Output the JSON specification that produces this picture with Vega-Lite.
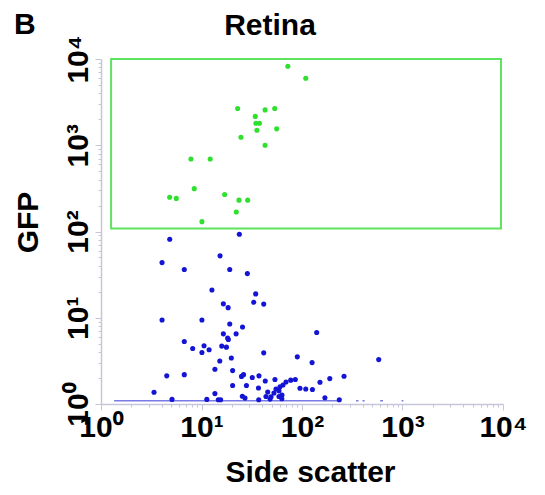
{
  "$schema": "https://vega.github.io/schema/vega-lite/v6.json",
  "autosize": "none",
  "width": 402,
  "height": 345,
  "padding": {"left": 101, "top": 59, "right": 42, "bottom": 91},
  "background": "white",
  "config": {"view": {"stroke": null}, "font": "Liberation Sans"},
  "title": {"text": "Retina", "font": "Liberation Sans", "fontSize": 30, "fontWeight": "bold", "color": "black", "anchor": "middle", "frame": "group", "dx": -32, "baseline": "alphabetic", "offset": 0, "dy": 55},
  "datasets": {
    "pts": [
      {"ssc": 72.3, "gfp": 8230, "gate": "GFP+"},
      {"ssc": 109, "gfp": 5970, "gate": "GFP+"},
      {"ssc": 22.9, "gfp": 2670, "gate": "GFP+"},
      {"ssc": 42.9, "gfp": 2570, "gate": "GFP+"},
      {"ssc": 53.5, "gfp": 2670, "gate": "GFP+"},
      {"ssc": 34.3, "gfp": 2160, "gate": "GFP+"},
      {"ssc": 34.8, "gfp": 1800, "gate": "GFP+"},
      {"ssc": 37.7, "gfp": 1800, "gate": "GFP+"},
      {"ssc": 35.6, "gfp": 1490, "gate": "GFP+"},
      {"ssc": 56.0, "gfp": 1550, "gate": "GFP+"},
      {"ssc": 24.7, "gfp": 1240, "gate": "GFP+"},
      {"ssc": 42.9, "gfp": 1000, "gate": "GFP+"},
      {"ssc": 7.85, "gfp": 693, "gate": "GFP+"},
      {"ssc": 12.2, "gfp": 693, "gate": "GFP+"},
      {"ssc": 8.47, "gfp": 314, "gate": "GFP+"},
      {"ssc": 4.82, "gfp": 250, "gate": "GFP+"},
      {"ssc": 5.61, "gfp": 242, "gate": "GFP+"},
      {"ssc": 17.0, "gfp": 269, "gate": "GFP+"},
      {"ssc": 23.6, "gfp": 231, "gate": "GFP+"},
      {"ssc": 28.8, "gfp": 231, "gate": "GFP+"},
      {"ssc": 22.2, "gfp": 168, "gate": "GFP+"},
      {"ssc": 10.1, "gfp": 130, "gate": "GFP+"},
      {"ssc": 23.8, "gfp": 93.0, "gate": "GFP-"},
      {"ssc": 4.83, "gfp": 81.4, "gate": "GFP-"},
      {"ssc": 4.05, "gfp": 43.6, "gate": "GFP-"},
      {"ssc": 15.3, "gfp": 52.2, "gate": "GFP-"},
      {"ssc": 6.74, "gfp": 36.2, "gate": "GFP-"},
      {"ssc": 19.1, "gfp": 36.2, "gate": "GFP-"},
      {"ssc": 28.6, "gfp": 32.5, "gate": "GFP-"},
      {"ssc": 41.6, "gfp": 14.4, "gate": "GFP-"},
      {"ssc": 12.7, "gfp": 21.0, "gate": "GFP-"},
      {"ssc": 34.6, "gfp": 18.9, "gate": "GFP-"},
      {"ssc": 16.5, "gfp": 14.5, "gate": "GFP-"},
      {"ssc": 33.1, "gfp": 15.1, "gate": "GFP-"},
      {"ssc": 18.4, "gfp": 13.1, "gate": "GFP-"},
      {"ssc": 4.05, "gfp": 9.4, "gate": "GFP-"},
      {"ssc": 10.1, "gfp": 9.4, "gate": "GFP-"},
      {"ssc": 19.1, "gfp": 8.45, "gate": "GFP-"},
      {"ssc": 25.6, "gfp": 7.82, "gate": "GFP-"},
      {"ssc": 140, "gfp": 6.75, "gate": "GFP-"},
      {"ssc": 16.5, "gfp": 6.51, "gate": "GFP-"},
      {"ssc": 22.1, "gfp": 6.51, "gate": "GFP-"},
      {"ssc": 18.2, "gfp": 5.81, "gate": "GFP-"},
      {"ssc": 18.5, "gfp": 5.60, "gate": "GFP-"},
      {"ssc": 6.74, "gfp": 5.30, "gate": "GFP-"},
      {"ssc": 8.17, "gfp": 4.40, "gate": "GFP-"},
      {"ssc": 10.6, "gfp": 4.73, "gate": "GFP-"},
      {"ssc": 11.9, "gfp": 4.25, "gate": "GFP-"},
      {"ssc": 10.1, "gfp": 3.95, "gate": "GFP-"},
      {"ssc": 15.9, "gfp": 4.69, "gate": "GFP-"},
      {"ssc": 17.7, "gfp": 4.56, "gate": "GFP-"},
      {"ssc": 41.6, "gfp": 3.92, "gate": "GFP-"},
      {"ssc": 89.8, "gfp": 3.52, "gate": "GFP-"},
      {"ssc": 126, "gfp": 3.02, "gate": "GFP-"},
      {"ssc": 580, "gfp": 3.27, "gate": "GFP-"},
      {"ssc": 19.8, "gfp": 3.41, "gate": "GFP-"},
      {"ssc": 15.2, "gfp": 3.15, "gate": "GFP-"},
      {"ssc": 13.6, "gfp": 2.53, "gate": "GFP-"},
      {"ssc": 20.4, "gfp": 2.44, "gate": "GFP-"},
      {"ssc": 4.51, "gfp": 2.12, "gate": "GFP-"},
      {"ssc": 6.74, "gfp": 2.19, "gate": "GFP-"},
      {"ssc": 25.0, "gfp": 2.09, "gate": "GFP-"},
      {"ssc": 26.2, "gfp": 2.19, "gate": "GFP-"},
      {"ssc": 32.0, "gfp": 2.03, "gate": "GFP-"},
      {"ssc": 37.3, "gfp": 2.12, "gate": "GFP-"},
      {"ssc": 43.1, "gfp": 1.85, "gate": "GFP-"},
      {"ssc": 53.8, "gfp": 1.92, "gate": "GFP-"},
      {"ssc": 69.3, "gfp": 1.80, "gate": "GFP-"},
      {"ssc": 77.2, "gfp": 1.89, "gate": "GFP-"},
      {"ssc": 85.8, "gfp": 1.92, "gate": "GFP-"},
      {"ssc": 151, "gfp": 1.79, "gate": "GFP-"},
      {"ssc": 189, "gfp": 1.97, "gate": "GFP-"},
      {"ssc": 262, "gfp": 2.10, "gate": "GFP-"},
      {"ssc": 20.4, "gfp": 1.64, "gate": "GFP-"},
      {"ssc": 28.0, "gfp": 1.64, "gate": "GFP-"},
      {"ssc": 36.9, "gfp": 1.53, "gate": "GFP-"},
      {"ssc": 3.37, "gfp": 1.37, "gate": "GFP-"},
      {"ssc": 13.6, "gfp": 1.32, "gate": "GFP-"},
      {"ssc": 45.6, "gfp": 1.38, "gate": "GFP-"},
      {"ssc": 95.5, "gfp": 1.52, "gate": "GFP-"},
      {"ssc": 109, "gfp": 1.49, "gate": "GFP-"},
      {"ssc": 127, "gfp": 1.47, "gate": "GFP-"},
      {"ssc": 25.5, "gfp": 1.23, "gate": "GFP-"},
      {"ssc": 27.1, "gfp": 1.17, "gate": "GFP-"},
      {"ssc": 37.1, "gfp": 1.12, "gate": "GFP-"},
      {"ssc": 5.09, "gfp": 1.13, "gate": "GFP-"},
      {"ssc": 11.3, "gfp": 1.13, "gate": "GFP-"},
      {"ssc": 14.7, "gfp": 1.12, "gate": "GFP-"},
      {"ssc": 15.5, "gfp": 1.12, "gate": "GFP-"},
      {"ssc": 169, "gfp": 1.18, "gate": "GFP-"},
      {"ssc": 235, "gfp": 1.12, "gate": "GFP-"},
      {"ssc": 55.1, "gfp": 1.49, "gate": "GFP-"},
      {"ssc": 60.4, "gfp": 1.58, "gate": "GFP-"},
      {"ssc": 64.7, "gfp": 1.66, "gate": "GFP-"},
      {"ssc": 59.0, "gfp": 1.42, "gate": "GFP-"},
      {"ssc": 52.6, "gfp": 1.34, "gate": "GFP-"},
      {"ssc": 63.2, "gfp": 1.27, "gate": "GFP-"},
      {"ssc": 59.0, "gfp": 1.22, "gate": "GFP-"},
      {"ssc": 49.2, "gfp": 1.21, "gate": "GFP-"},
      {"ssc": 43.8, "gfp": 1.22, "gate": "GFP-"},
      {"ssc": 48.1, "gfp": 1.14, "gate": "GFP-"},
      {"ssc": 63.0, "gfp": 1.15, "gate": "GFP-"}
    ],
    "gatebox": [{"ssc": 1.26, "ssc2": 9550, "gfp": 108, "gfp2": 10000}],
    "baseline": [
      {"ssc": 1.35, "ssc2": 240, "gfp": 1.09},
      {"ssc": 345, "ssc2": 365, "gfp": 1.09},
      {"ssc": 400, "ssc2": 420, "gfp": 1.09},
      {"ssc": 600, "ssc2": 640, "gfp": 1.09},
      {"ssc": 980, "ssc2": 1020, "gfp": 1.09}
    ],
    "panel": [{"ssc": 0.136, "gfp": 19280, "label": "B"}]
  },
  "layer": [
    {
      "data": {"name": "gatebox"},
      "mark": {"type": "rect", "filled": false, "stroke": "#5ee35e", "strokeWidth": 2},
      "encoding": {
        "x": {"field": "ssc", "type": "quantitative", "scale": {"type": "log", "domain": [1, 10000], "nice": false}},
        "x2": {"field": "ssc2"},
        "y": {"field": "gfp", "type": "quantitative", "scale": {"type": "log", "domain": [1, 10000], "nice": false}},
        "y2": {"field": "gfp2"}
      }
    },
    {
      "data": {"name": "baseline"},
      "mark": {"type": "rule", "color": "#7b7be6", "strokeWidth": 1.5},
      "encoding": {
        "x": {"field": "ssc", "type": "quantitative"},
        "x2": {"field": "ssc2"},
        "y": {"field": "gfp", "type": "quantitative"}
      }
    },
    {
      "data": {"name": "pts"},
      "mark": {"type": "circle", "size": 26, "opacity": 1},
      "encoding": {
        "x": {
          "field": "ssc", "type": "quantitative",
          "axis": {
            "title": "Side scatter",
            "values": [1,2,3,4,5,6,7,8,9,10,20,30,40,50,60,70,80,90,100,200,300,400,500,600,700,800,900,1000,2000,3000,4000,5000,6000,7000,8000,9000,10000],
            "labelExpr": "datum.value == 1 ? '10⁰' : datum.value == 10 ? '10¹' : datum.value == 100 ? '10²' : datum.value == 1000 ? '10³' : datum.value == 10000 ? '10⁴' : ''",
            "grid": false,
            "domainColor": "#c6c6da", "domainWidth": 1.5,
            "tickColor": "#c6c6da", "tickWidth": 1,
            "tickSize": {"condition": {"test": "indexof([1,10,100,1000,10000], datum.value) >= 0", "value": 6}, "value": 3},
            "labelFont": "Liberation Sans", "labelFontSize": 30, "labelFontWeight": "bold", "labelColor": "black",
            "labelPadding": 2, "labelOverlap": false, "labelFlush": false,
            "titleFont": "Liberation Sans", "titleFontSize": 30, "titleFontWeight": "bold", "titleColor": "black",
            "titleX": 209, "titleY": 77, "titleBaseline": "alphabetic"
          }
        },
        "y": {
          "field": "gfp", "type": "quantitative",
          "axis": {
            "title": "GFP",
            "values": [1,2,3,4,5,6,7,8,9,10,20,30,40,50,60,70,80,90,100,200,300,400,500,600,700,800,900,1000,2000,3000,4000,5000,6000,7000,8000,9000,10000],
            "labelExpr": "datum.value == 1 ? '10⁰' : datum.value == 10 ? '10¹' : datum.value == 100 ? '10²' : datum.value == 1000 ? '10³' : datum.value == 10000 ? '10⁴' : ''",
            "grid": false,
            "domainColor": "#c6c6da", "domainWidth": 1.5,
            "tickColor": "#c6c6da", "tickWidth": 1,
            "tickSize": {"condition": {"test": "indexof([1,10,100,1000,10000], datum.value) >= 0", "value": 6}, "value": 3},
            "labelFont": "Liberation Sans", "labelFontSize": 30, "labelFontWeight": "bold", "labelColor": "black",
            "labelAngle": -90, "labelAlign": "center", "labelBaseline": "bottom",
            "labelPadding": 2, "labelOverlap": false, "labelFlush": false,
            "titleFont": "Liberation Sans", "titleFontSize": 30, "titleFontWeight": "bold", "titleColor": "black",
            "titleAngle": -90, "titleX": -73, "titleY": 163, "titleAlign": "center", "titleBaseline": "middle"
          }
        },
        "color": {"field": "gate", "type": "nominal", "scale": {"domain": ["GFP+", "GFP-"], "range": ["#2fe02f", "#1414d4"]}, "legend": null}
      }
    },
    {
      "data": {"name": "panel"},
      "mark": {"type": "text", "font": "Liberation Sans", "fontSize": 30, "fontWeight": "bold", "color": "black", "align": "left", "baseline": "alphabetic"},
      "encoding": {
        "x": {"field": "ssc", "type": "quantitative"},
        "y": {"field": "gfp", "type": "quantitative"},
        "text": {"field": "label"}
      }
    }
  ]
}
